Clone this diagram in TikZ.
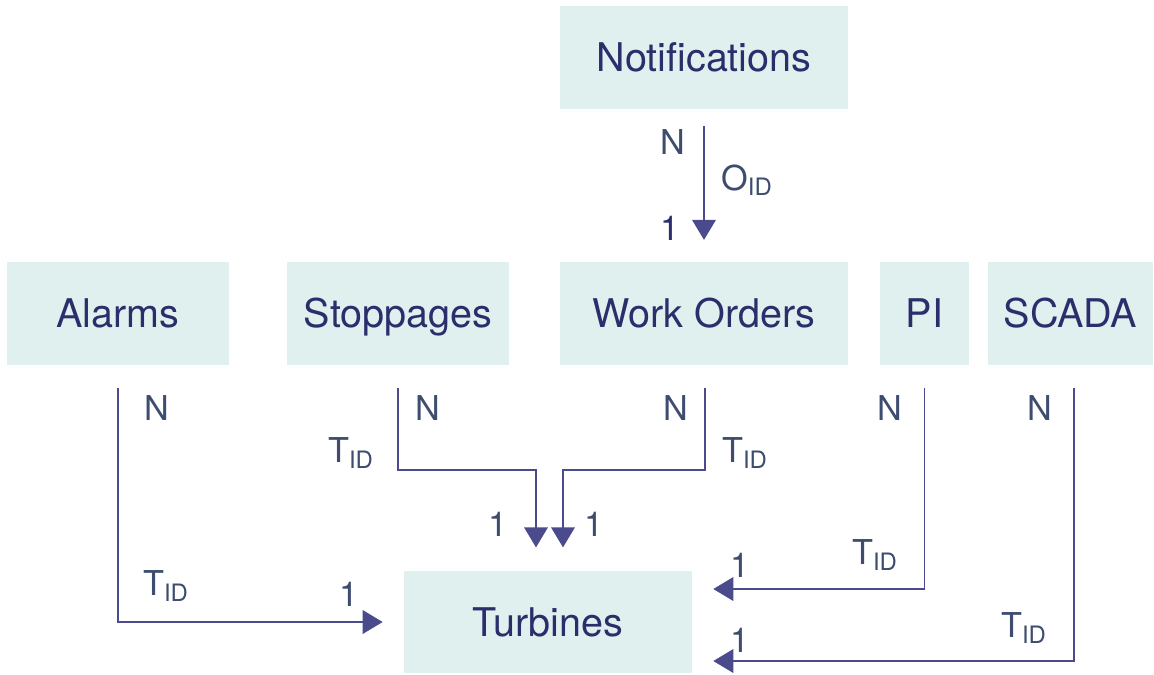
\documentclass[tikz,border=0pt]{standalone}
\usepackage{fontspec}
\setmainfont{TeX Gyre Heros}
\usepackage{xcolor}
\usepackage{tikz}
\usetikzlibrary{arrows.meta, positioning, calc}

\definecolor{boxfill}{HTML}{E0F0EE}
\definecolor{boxtext}{HTML}{2C2E6C}
\definecolor{linecol}{HTML}{4A4A8C}
\definecolor{labtext}{HTML}{3E4C70}

\begin{document}
\begin{tikzpicture}[
  x=0.02cm, y=-0.02cm,
  font=\fontsize{22.5}{27}\selectfont,
  box/.style={fill=boxfill, text=boxtext, minimum height=2.05cm, inner sep=0pt,
    text height=16.2pt, text depth=0pt},
  conn/.style={draw=linecol, line width=1.1pt, -{Triangle[length=0.4cm, width=0.47cm]}},
  card/.style={text=labtext, font=\fontsize{19.5}{23}\selectfont, inner sep=0pt}
]
\useasboundingbox (0,0) rectangle (1154,674);

% entities
\node[box, minimum width=5.76cm] (notif) at (704,57.5) {Notifications};
\node[box, minimum width=4.44cm] (alarms) at (118,313.5) {Alarms};
\node[box, minimum width=4.44cm] (stop) at (398,313.5) {Stoppages};
\node[box, minimum width=5.76cm] (wo) at (704,313.5) {Work Orders};
\node[box, minimum width=1.78cm] (pi) at (924.5,313.5) {PI};
\node[box, minimum width=3.30cm] (scada) at (1070.5,313.5) {SCADA};
\node[box, minimum width=5.76cm] (turb) at (548,622) {Turbines};

% relations
\draw[conn, shorten <=0.34cm, shorten >=0.44cm] (notif.south) -- (wo.north);
\draw[conn, shorten <=0.46cm, shorten >=0.42cm] (alarms.south) |- (turb.west);
\draw[conn, shorten <=0.46cm, shorten >=0.46cm] (stop.south) -- ++(0,105) -| ($(turb.north)+(-12,0)$);
\draw[conn, shorten <=0.46cm, shorten >=0.46cm] ($(wo.south)+(1,0)$) -- ++(0,105) -| ($(turb.north)+(15,0)$);
\draw[conn, shorten <=0.46cm, shorten >=0.42cm] (pi.south) |- ($(turb.east)+(0,-33)$);
\draw[conn, shorten <=0.46cm, shorten >=0.42cm] ($(scada.south)+(3.5,0)$) |- ($(turb.east)+(0,39)$);

% cardinalities
\node[card] (n0) at (673,142) {N};
\node[card] (o0) at (747,180) {O\textsubscript{ID}};
\node[card, text=boxtext] (c0) at (670,228) {1};
\node[card] (n1) at (157,408) {N};
\node[card] (t1) at (166,586) {T\textsubscript{ID}};
\node[card] (c1) at (349,594) {1};
\node[card] (n2) at (428,408) {N};
\node[card] (t2) at (351,453) {T\textsubscript{ID}};
\node[card] (c2) at (498,524) {1};
\node[card] (n3) at (676,408) {N};
\node[card] (t3) at (745,453) {T\textsubscript{ID}};
\node[card] (c3) at (594,524) {1};
\node[card] (n4) at (890,408) {N};
\node[card] (t4) at (875,555) {T\textsubscript{ID}};
\node[card] (c4) at (740,565) {1};
\node[card] (n5) at (1040,408) {N};
\node[card] (t5) at (1024,628) {T\textsubscript{ID}};
\node[card] (c5) at (740,640) {1};
\end{tikzpicture}
\end{document}
